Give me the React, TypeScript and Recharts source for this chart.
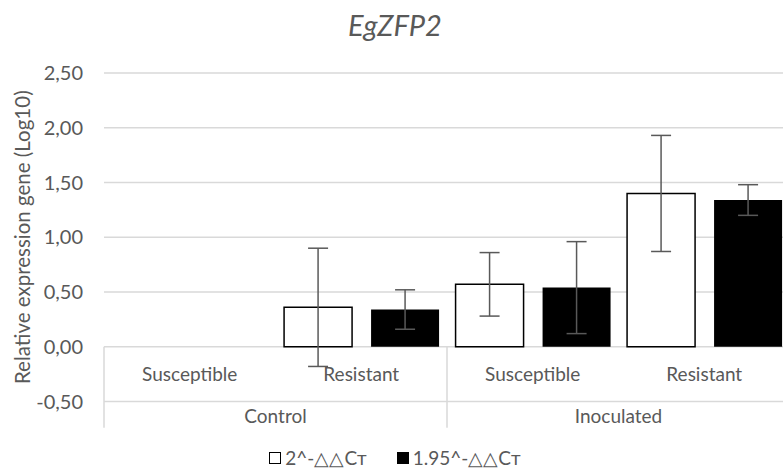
import React from "react";
import {
  BarChart,
  Bar,
  XAxis,
  YAxis,
  CartesianGrid,
  ErrorBar,
  Legend,
  ReferenceLine,
} from "recharts";

const groups = ["Control", "Control", "Inoculated", "Inoculated"];
const lines = ["Susceptible", "Resistant", "Susceptible", "Resistant"];
const series2 = [null, 0.36, 0.57, 1.4];
const series2Err = [null, 0.54, 0.29, 0.53];
const series195 = [null, 0.34, 0.54, 1.34];
const series195Err = [null, 0.18, 0.42, 0.14];
const yTicks = [-0.5, 0, 0.5, 1, 1.5, 2, 2.5];

const data = lines.map((line, i) => ({
  key: `${groups[i]}|${line}`,
  line,
  group: groups[i],
  a: series2[i],
  aErr: series2Err[i],
  b: series195[i],
  bErr: series195Err[i],
}));

const FONT = "Lato, 'Noto Sans', sans-serif";
const TEXT = "#595959";
const GRID = "#d9d9d9";
const DIVIDER_BOTTOM = -0.74;

// inner level: Susceptible / Resistant, drawn above the axis (inside the negative band)
const SubTick = (props: any) => {
  const { x, y, payload } = props;
  const label = String(payload.value).split("|")[1];
  return (
    <text x={x} y={y - 28} textAnchor="middle" dominantBaseline="central" fill={TEXT} fontSize={19} fontFamily={FONT}>
      {label}
    </text>
  );
};

// outer level: Control / Inoculated
const GroupTick = (props: any) => {
  const { x, y, payload } = props;
  return (
    <text x={x} y={y + 13} textAnchor="middle" dominantBaseline="central" fill={TEXT} fontSize={19} fontFamily={FONT}>
      {payload.value}
    </text>
  );
};

const YLabel = (props: any) => {
  const { viewBox } = props;
  const cx = viewBox.x + 22;
  const cy = viewBox.y + viewBox.height / 2;
  return (
    <text
      x={cx}
      y={cy}
      transform={`rotate(-90 ${cx} ${cy})`}
      textAnchor="middle"
      dominantBaseline="central"
      fill={TEXT}
      fontSize={20.5}
      fontFamily={FONT}
    >
      Relative expression gene (Log10)
    </text>
  );
};

const renderLegend = (props: any) => {
  const { payload } = props;
  return (
    <div style={{ display: "flex", justifyContent: "center", gap: 30, fontFamily: FONT, fontSize: 19, color: TEXT }}>
      {payload.map((entry: any) => (
        <span key={entry.value} style={{ display: "flex", alignItems: "center", gap: 4 }}>
          <span
            style={{
              display: "inline-block",
              width: 10,
              height: 10,
              background: entry.color,
              border: "1.5px solid #000",
            }}
          />
          {entry.value}
        </span>
      ))}
    </div>
  );
};

export default function App() {
  return (
    <div style={{ position: "fixed", left: 0, top: 0, width: 783, height: 470, overflow: "hidden", background: "#fff" }}>
      <div
        style={{
          position: "absolute",
          left: 0,
          top: 7,
          width: 790,
          textAlign: "center",
          fontFamily: FONT,
          fontStyle: "italic",
          fontSize: 29,
          color: TEXT,
        }}
      >
        EgZFP2
      </div>
      <BarChart
        width={790}
        height={470}
        data={data}
        margin={{ top: 73, right: 0, bottom: 37.5, left: 0 }}
        barCategoryGap="5%"
        barGap={19}
      >
        <CartesianGrid vertical={false} stroke={GRID} strokeWidth={1.5} />
        <XAxis
          xAxisId={0}
          dataKey="key"
          height={1}
          axisLine={false}
          tickLine={false}
          tickSize={0}
          tickMargin={0}
          interval={0}
          tick={<SubTick />}
        />
        <XAxis
          xAxisId={1}
          dataKey="group"
          allowDuplicatedCategory={false}
          height={30}
          axisLine={false}
          tickLine={false}
          tickSize={0}
          tickMargin={0}
          interval={0}
          tick={<GroupTick />}
        />
        <YAxis
          width={104}
          domain={[-0.5, 2.5]}
          ticks={yTicks}
          axisLine={false}
          tickLine={false}
          tickSize={0}
          tickMargin={21}
          tick={{ fill: TEXT, fontSize: 20, fontFamily: FONT }}
          tickFormatter={(v: number) => v.toFixed(2).replace(".", ",")}
          label={<YLabel />}
        />
        <ReferenceLine
          xAxisId={0}
          segment={[{ x: data[0].key, y: 0 }, { x: data[0].key, y: DIVIDER_BOTTOM }]}
          position="start"
          ifOverflow="visible"
          stroke={GRID}
          strokeWidth={1.5}
        />
        <ReferenceLine
          xAxisId={0}
          segment={[{ x: data[2].key, y: 0 }, { x: data[2].key, y: DIVIDER_BOTTOM }]}
          position="start"
          ifOverflow="visible"
          stroke={GRID}
          strokeWidth={1.5}
        />
        <Legend
          verticalAlign="middle"
          align="center"
          layout="horizontal"
          itemSorter="dataKey"
          wrapperStyle={{ top: 446, left: 0, width: 790 }}
          content={renderLegend}
        />
        <Bar
          xAxisId={0}
          dataKey="a"
          name="2^-△△Cт"
          fill="#ffffff"
          stroke="#000000"
          strokeWidth={1.5}
          isAnimationActive={false}
        >
          <ErrorBar dataKey="aErr" width={10} stroke="#595959" strokeWidth={1.5} />
        </Bar>
        <Bar
          xAxisId={0}
          dataKey="b"
          name="1.95^-△△Cт"
          fill="#000000"
          isAnimationActive={false}
        >
          <ErrorBar dataKey="bErr" width={10} stroke="#595959" strokeWidth={1.5} />
        </Bar>
      </BarChart>
    </div>
  );
}
